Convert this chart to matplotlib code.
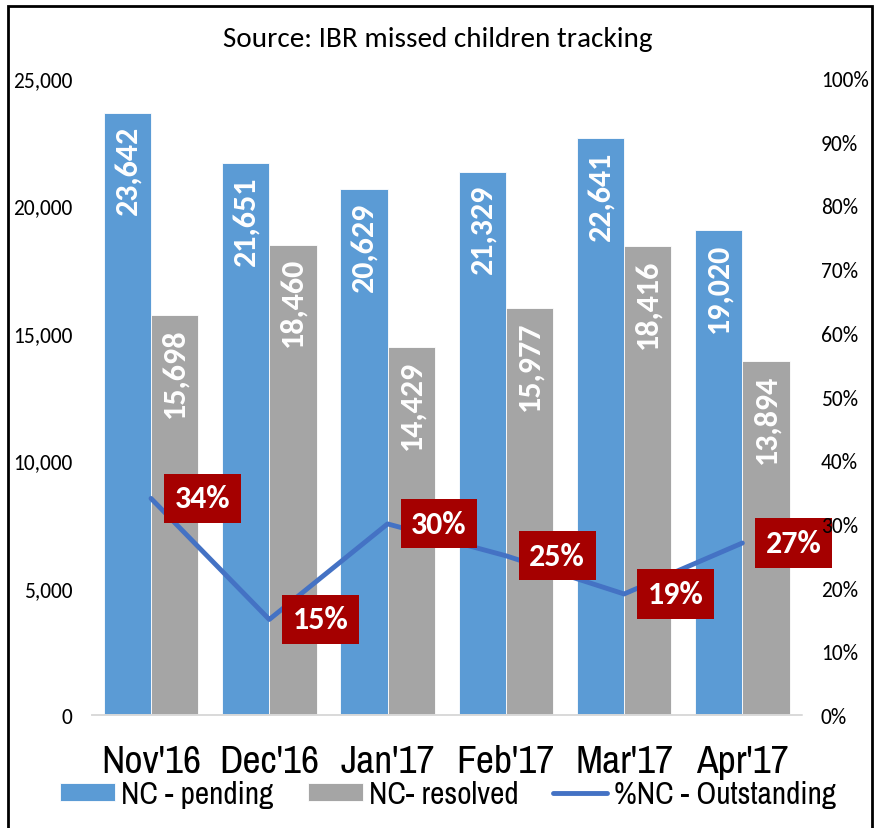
import matplotlib.pyplot as plt
from matplotlib import font_manager
from matplotlib.patches import Rectangle

# monthly missed-children counts and share still outstanding
months = ["Nov'16", "Dec'16", "Jan'17", "Feb'17", "Mar'17", "Apr'17"]
nc_pending = [23642, 21651, 20629, 21329, 22641, 19020]
nc_resolved = [15698, 18460, 14429, 15977, 18416, 13894]
pct_outstanding = [34, 15, 30, 25, 19, 27]

BLUE = "#5B9BD5"
GREY = "#A5A5A5"
LINE = "#4472C4"
RED = "#A50000"


def first_installed(*names):
    installed = {f.name for f in font_manager.fontManager.ttflist}
    for n in names:
        if n in installed:
            return n
    return "DejaVu Sans"


base_font = first_installed("Carlito", "Lato")
narrow_font = first_installed("Liberation Sans Narrow", "Archivo Narrow")
narrow = {"family": narrow_font, "stretch": "condensed"}
plt.rcParams["font.family"] = [base_font, "DejaVu Sans"]

fig = plt.figure(figsize=(8.75, 8.29), dpi=100)
ax = fig.add_axes([0.105, 0.1363, 0.811, 0.7684])
ax2 = ax.twinx()

x = list(range(len(months)))
w = 0.4
b1 = ax.bar([i - w / 2 for i in x], nc_pending, w, color=BLUE, edgecolor="white", linewidth=0.6,
            label="NC - pending")
b2 = ax.bar([i + w / 2 for i in x], nc_resolved, w, color=GREY, edgecolor="white", linewidth=0.6,
            label="NC- resolved")

for bars, vals in ((b1, nc_pending), (b2, nc_resolved)):
    for rect, v in zip(bars, vals):
        ax.annotate(f"{v:,}", (rect.get_x() + rect.get_width() / 2, v),
                    xytext=(0, -9), textcoords="offset points",
                    rotation=90, ha="center", va="top",
                    color="white", fontsize=23, fontweight="bold")

ax.set_xlim(-0.5, len(months) - 0.5)
ax.set_ylim(0, 25000)
ax.set_yticks(range(0, 25001, 5000))
ax.set_yticklabels([f"{v:,}" for v in range(0, 25001, 5000)], fontsize=15.5)
ax.set_xticks(x)
ax.set_xticklabels(months, fontsize=28.5, **narrow)
ax.tick_params(axis="y", length=0, pad=14)
ax.tick_params(axis="x", length=0, pad=21)

# line and its labels sit under the right-hand tick labels
ln, = ax2.plot(x, pct_outstanding, color=LINE, linewidth=3.5, solid_capstyle="round",
               label="%NC - Outstanding", zorder=1)
for i, p in zip(x, pct_outstanding):
    ax2.annotate(f"{p}%", (i, p), xytext=(37, 0), textcoords="offset points",
                 ha="center", va="center", color="white", fontsize=23, fontweight="bold",
                 bbox=dict(boxstyle="square,pad=0.33", facecolor=RED, edgecolor="none"),
                 annotation_clip=False, zorder=1.2)
ax2.set_ylim(0, 100)
ax2.set_yticks(range(0, 101, 10))
ax2.set_yticklabels([f"{v}%" for v in range(0, 101, 10)], fontsize=15.5)
ax2.tick_params(axis="y", length=0, pad=14)

for a in (ax, ax2):
    for s in ("top", "left", "right"):
        a.spines[s].set_visible(False)
    a.spines["bottom"].set_color("#D9D9D9")
    a.spines["bottom"].set_linewidth(1.2)

fig.text(0.5, 0.952, "Source: IBR missed children tracking", ha="center", va="center", fontsize=21)

fig.legend(handles=[b1, b2, ln], loc="center", bbox_to_anchor=(0.512, 0.041), ncol=3,
           frameon=False, prop={**narrow, "size": 22.5},
           handlelength=1.75, handleheight=0.5, handletextpad=0.2, columnspacing=1.1)

fig.patches.append(Rectangle((0.009, -0.05), 0.9876, 1.0416, transform=fig.transFigure,
                             fill=False, edgecolor="black", linewidth=2))

fig.savefig("out.png", dpi=100)
